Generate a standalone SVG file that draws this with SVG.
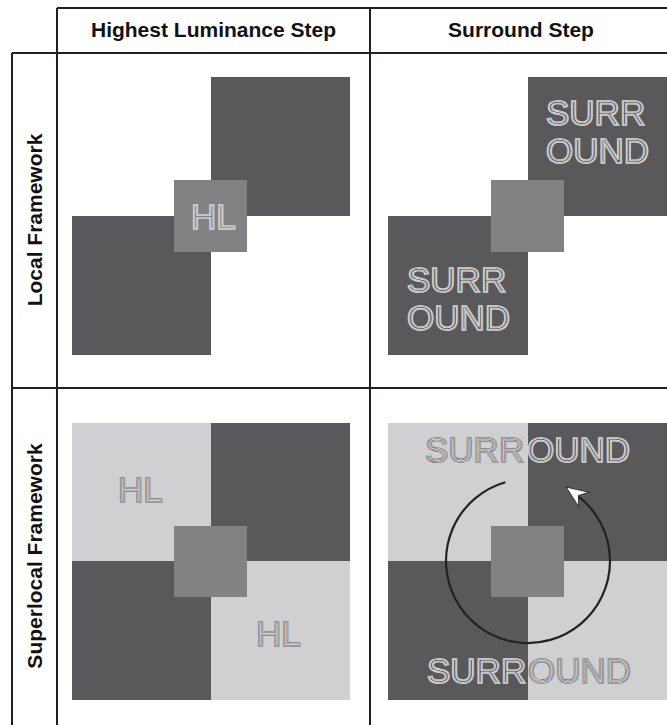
<svg xmlns="http://www.w3.org/2000/svg" width="667" height="725" viewBox="0 0 667 725">
  <style>
    .grid { stroke: #231f20; stroke-width: 2; fill: none; }
    .head { font-family: "Liberation Sans", Arial, sans-serif; font-weight: bold; font-size: 21px; fill: #111; }
    .dark { fill: #59595b; }
    .mid { fill: #828285; }
    .light { fill: #d0d0d2; }
    .lbl { font-family: "Liberation Sans", Arial, sans-serif; font-size: 35px; }
    .on-dark { fill: #59595b; stroke: #e6e6e6; stroke-width: 1.7; }
    .on-mid { fill: #828285; stroke: #e6e6e6; stroke-width: 1.7; }
    .on-light { fill: #d0d0d2; stroke: #5e5e60; stroke-width: 1.6; }
    .inner-l { fill: none; stroke: #a4a4a6; stroke-width: 0.5; }
    .inner-d { fill: none; stroke: #f0f0f0; stroke-width: 0.5; }
  </style>

  <rect width="667" height="725" fill="#ffffff"/>

  <!-- column headers -->
  <g id="header-hl">
    <text class="head" x="213.5" y="37" text-anchor="middle">Highest Luminance Step</text>
  </g>
  <g id="header-surround">
    <text class="head" x="521" y="37" text-anchor="middle">Surround Step</text>
  </g>

  <!-- row headers -->
  <g id="row-local">
    <text class="head" transform="translate(41.5,220) rotate(-90)" text-anchor="middle">Local Framework</text>
  </g>
  <g id="row-superlocal">
    <text class="head" transform="translate(41.5,556) rotate(-90)" text-anchor="middle">Superlocal Framework</text>
  </g>

  <!-- local framework, highest luminance step -->
  <g id="local-hl">
    <rect class="dark" x="211" y="77" width="139" height="139"/>
    <rect class="dark" x="72" y="216" width="139" height="139"/>
    <rect class="mid" x="174" y="180" width="73" height="72"/>
    <text class="lbl on-mid" x="191" y="229">HL</text>
    <text class="lbl inner-l" x="191" y="229">HL</text>
  </g>

  <!-- local framework, surround step -->
  <g id="local-surround">
    <rect class="dark" x="528" y="77" width="139" height="139"/>
    <rect class="dark" x="388" y="216" width="140" height="139"/>
    <rect class="mid" x="491" y="180" width="73" height="72"/>
    <text class="lbl on-dark" x="546" y="125">SURR</text>
    <text class="lbl inner-l" x="546" y="125">SURR</text>
    <text class="lbl on-dark" x="546" y="163">OUND</text>
    <text class="lbl inner-l" x="546" y="163">OUND</text>
    <text class="lbl on-dark" x="407" y="292">SURR</text>
    <text class="lbl inner-l" x="407" y="292">SURR</text>
    <text class="lbl on-dark" x="407" y="330">OUND</text>
    <text class="lbl inner-l" x="407" y="330">OUND</text>
  </g>

  <!-- superlocal framework, highest luminance step -->
  <g id="superlocal-hl">
    <rect class="light" x="72" y="423" width="139" height="138"/>
    <rect class="dark" x="211" y="423" width="139" height="138"/>
    <rect class="dark" x="72" y="561" width="139" height="139"/>
    <rect class="light" x="211" y="561" width="139" height="139"/>
    <rect class="mid" x="174" y="526" width="73" height="71"/>
    <text class="lbl on-light" x="118" y="502">HL</text>
    <text class="lbl inner-d" x="118" y="502">HL</text>
    <text class="lbl on-light" x="256" y="646">HL</text>
    <text class="lbl inner-d" x="256" y="646">HL</text>
  </g>

  <!-- superlocal framework, surround step -->
  <g id="superlocal-surround">
    <rect class="light" x="388" y="423" width="140" height="138"/>
    <rect class="dark" x="528" y="423" width="139" height="138"/>
    <rect class="dark" x="388" y="561" width="140" height="139"/>
    <rect class="light" x="528" y="561" width="139" height="139"/>
    <rect class="mid" x="491" y="526" width="73" height="71"/>
    <text class="lbl on-light" x="425" y="462">SURR</text>
    <text class="lbl inner-d" x="425" y="462">SURR</text>
    <text class="lbl on-dark" x="527" y="462">OUND</text>
    <text class="lbl inner-l" x="527" y="462">OUND</text>
    <text class="lbl on-dark" x="427" y="683">SURR</text>
    <text class="lbl inner-l" x="427" y="683">SURR</text>
    <text class="lbl on-light" x="528" y="683">OUND</text>
    <text class="lbl inner-d" x="528" y="683">OUND</text>
  </g>

  <!-- rotation arrow around the centre patch -->
  <g id="connectors">
    <path d="M505.4,482.2 A82,82 0 1 0 578.5,496.4" fill="none" stroke="#222222" stroke-width="2.2"/>
    <polygon points="0,0 -22,-9 -15,0 -22,9" transform="translate(566,487) rotate(215)" fill="#ffffff" stroke="#333333" stroke-width="1"/>
  </g>

  <!-- table rules -->
  <g id="table-grid" class="grid">
    <line x1="57" y1="8" x2="667" y2="8"/>
    <line x1="12" y1="53" x2="667" y2="53"/>
    <line x1="12" y1="388" x2="667" y2="388"/>
    <line x1="12" y1="53" x2="12" y2="725"/>
    <line x1="57" y1="8" x2="57" y2="725"/>
    <line x1="370" y1="8" x2="370" y2="725"/>
  </g>
</svg>
